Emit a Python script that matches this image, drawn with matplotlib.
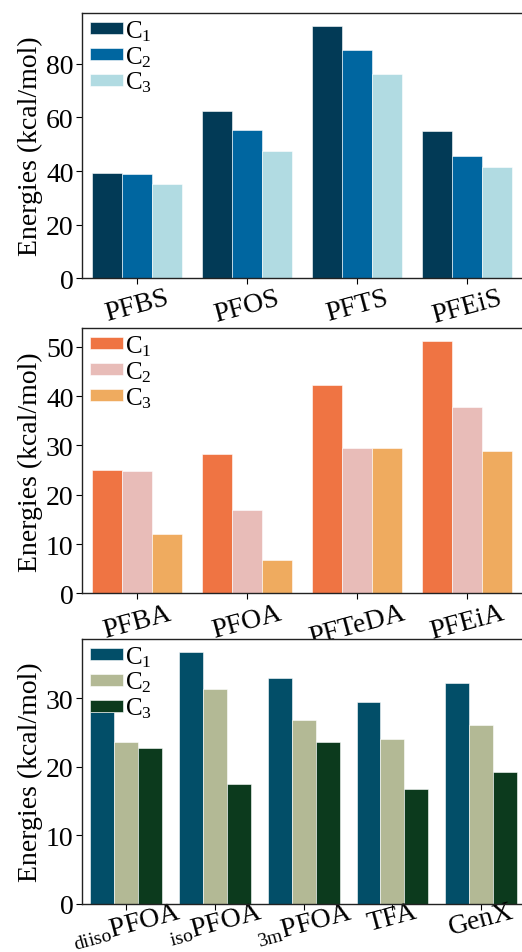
import matplotlib
matplotlib.use('Agg')
import matplotlib.pyplot as plt
from matplotlib.ticker import MultipleLocator
import numpy as np

plt.rcParams['font.family'] = ['Liberation Serif', 'DejaVu Serif']
plt.rcParams['mathtext.fontset'] = 'custom'
plt.rcParams['mathtext.rm'] = 'Liberation Serif'
plt.rcParams['mathtext.it'] = 'Liberation Serif:italic'
plt.rcParams['mathtext.default'] = 'regular'

# Data
series_labels = ['C$_1$', 'C$_2$', 'C$_3$']

sulf_names = ['PFBS', 'PFOS', 'PFTS', 'PFEiS']
sulf_c1 = [39.2, 62.3, 94.3, 55.1]
sulf_c2 = [39.0, 55.4, 85.1, 45.5]
sulf_c3 = [35.2, 47.6, 76.1, 41.6]

acid_names = ['PFBA', 'PFOA', 'PFTeDA', 'PFEiA']
acid_c1 = [25.0, 28.2, 42.2, 51.2]
acid_c2 = [24.9, 16.8, 29.5, 37.9]
acid_c3 = [12.0, 6.7, 29.4, 28.8]

iso_names = ['$_{diiso}$PFOA', '$_{iso}$PFOA', '$_{3m}$PFOA', 'TFA', 'GenX']
iso_c1 = [28.0, 36.8, 32.9, 29.4, 32.2]
iso_c2 = [23.6, 31.4, 26.8, 24.1, 26.1]
iso_c3 = [22.8, 17.5, 23.6, 16.7, 19.3]

colors_sulf = ['#023a56', '#0066a0', '#b1dbe2']
colors_acid = ['#ef7443', '#e8bcb8', '#efab5f']
colors_iso = ['#024e68', '#b3b995', '#0c3a1d']

fig = plt.figure(figsize=(5.22, 9.53), dpi=100)

# names, values, colours, axes bottom, xlim, y tick step, x label pad
panels = [
    (sulf_names, [sulf_c1, sulf_c2, sulf_c3], colors_sulf, 0.7072, (-0.5, 3.5), 20, 1),
    (acid_names, [acid_c1, acid_c2, acid_c3], colors_acid, 0.3764, (-0.5, 3.5), 10, 1),
    (iso_names, [iso_c1, iso_c2, iso_c3], colors_iso, 0.0504, (-0.5, 4.46), 10, -8),
]

width = 0.27
for names, vals, cols, bottom, xl, step, xpad in panels:
    ax = fig.add_axes([0.157, bottom, 0.843, 0.278])
    x = np.arange(len(names))
    for i, v in enumerate(vals):
        ax.bar(x + (i - 1) * width, v, width, color=cols[i], label=series_labels[i],
               edgecolor='white', linewidth=0.4)
    ax.set_xlim(*xl)
    ax.yaxis.set_major_locator(MultipleLocator(step))
    ax.set_xticks(x)
    ax.set_xticklabels(names, rotation=15, fontsize=20)
    ax.tick_params(axis='y', labelsize=20, length=4, width=0.8, pad=2)
    ax.tick_params(axis='x', length=4, width=0.8, pad=xpad)
    ax.set_ylabel('Energies (kcal/mol)', fontsize=20, labelpad=2)
    ax.spines['right'].set_visible(False)
    for s in ['left', 'bottom', 'top']:
        ax.spines[s].set_linewidth(1.0)
        ax.spines[s].set_color('#222222')
    ax.legend(loc='upper left', bbox_to_anchor=(0.007, 1.0), frameon=False,
              fontsize=18, handlelength=1.3, handleheight=0.35, handletextpad=0.1,
              labelspacing=0.05, borderaxespad=0.0, borderpad=0.2)

fig.savefig('out.png', dpi=100)
